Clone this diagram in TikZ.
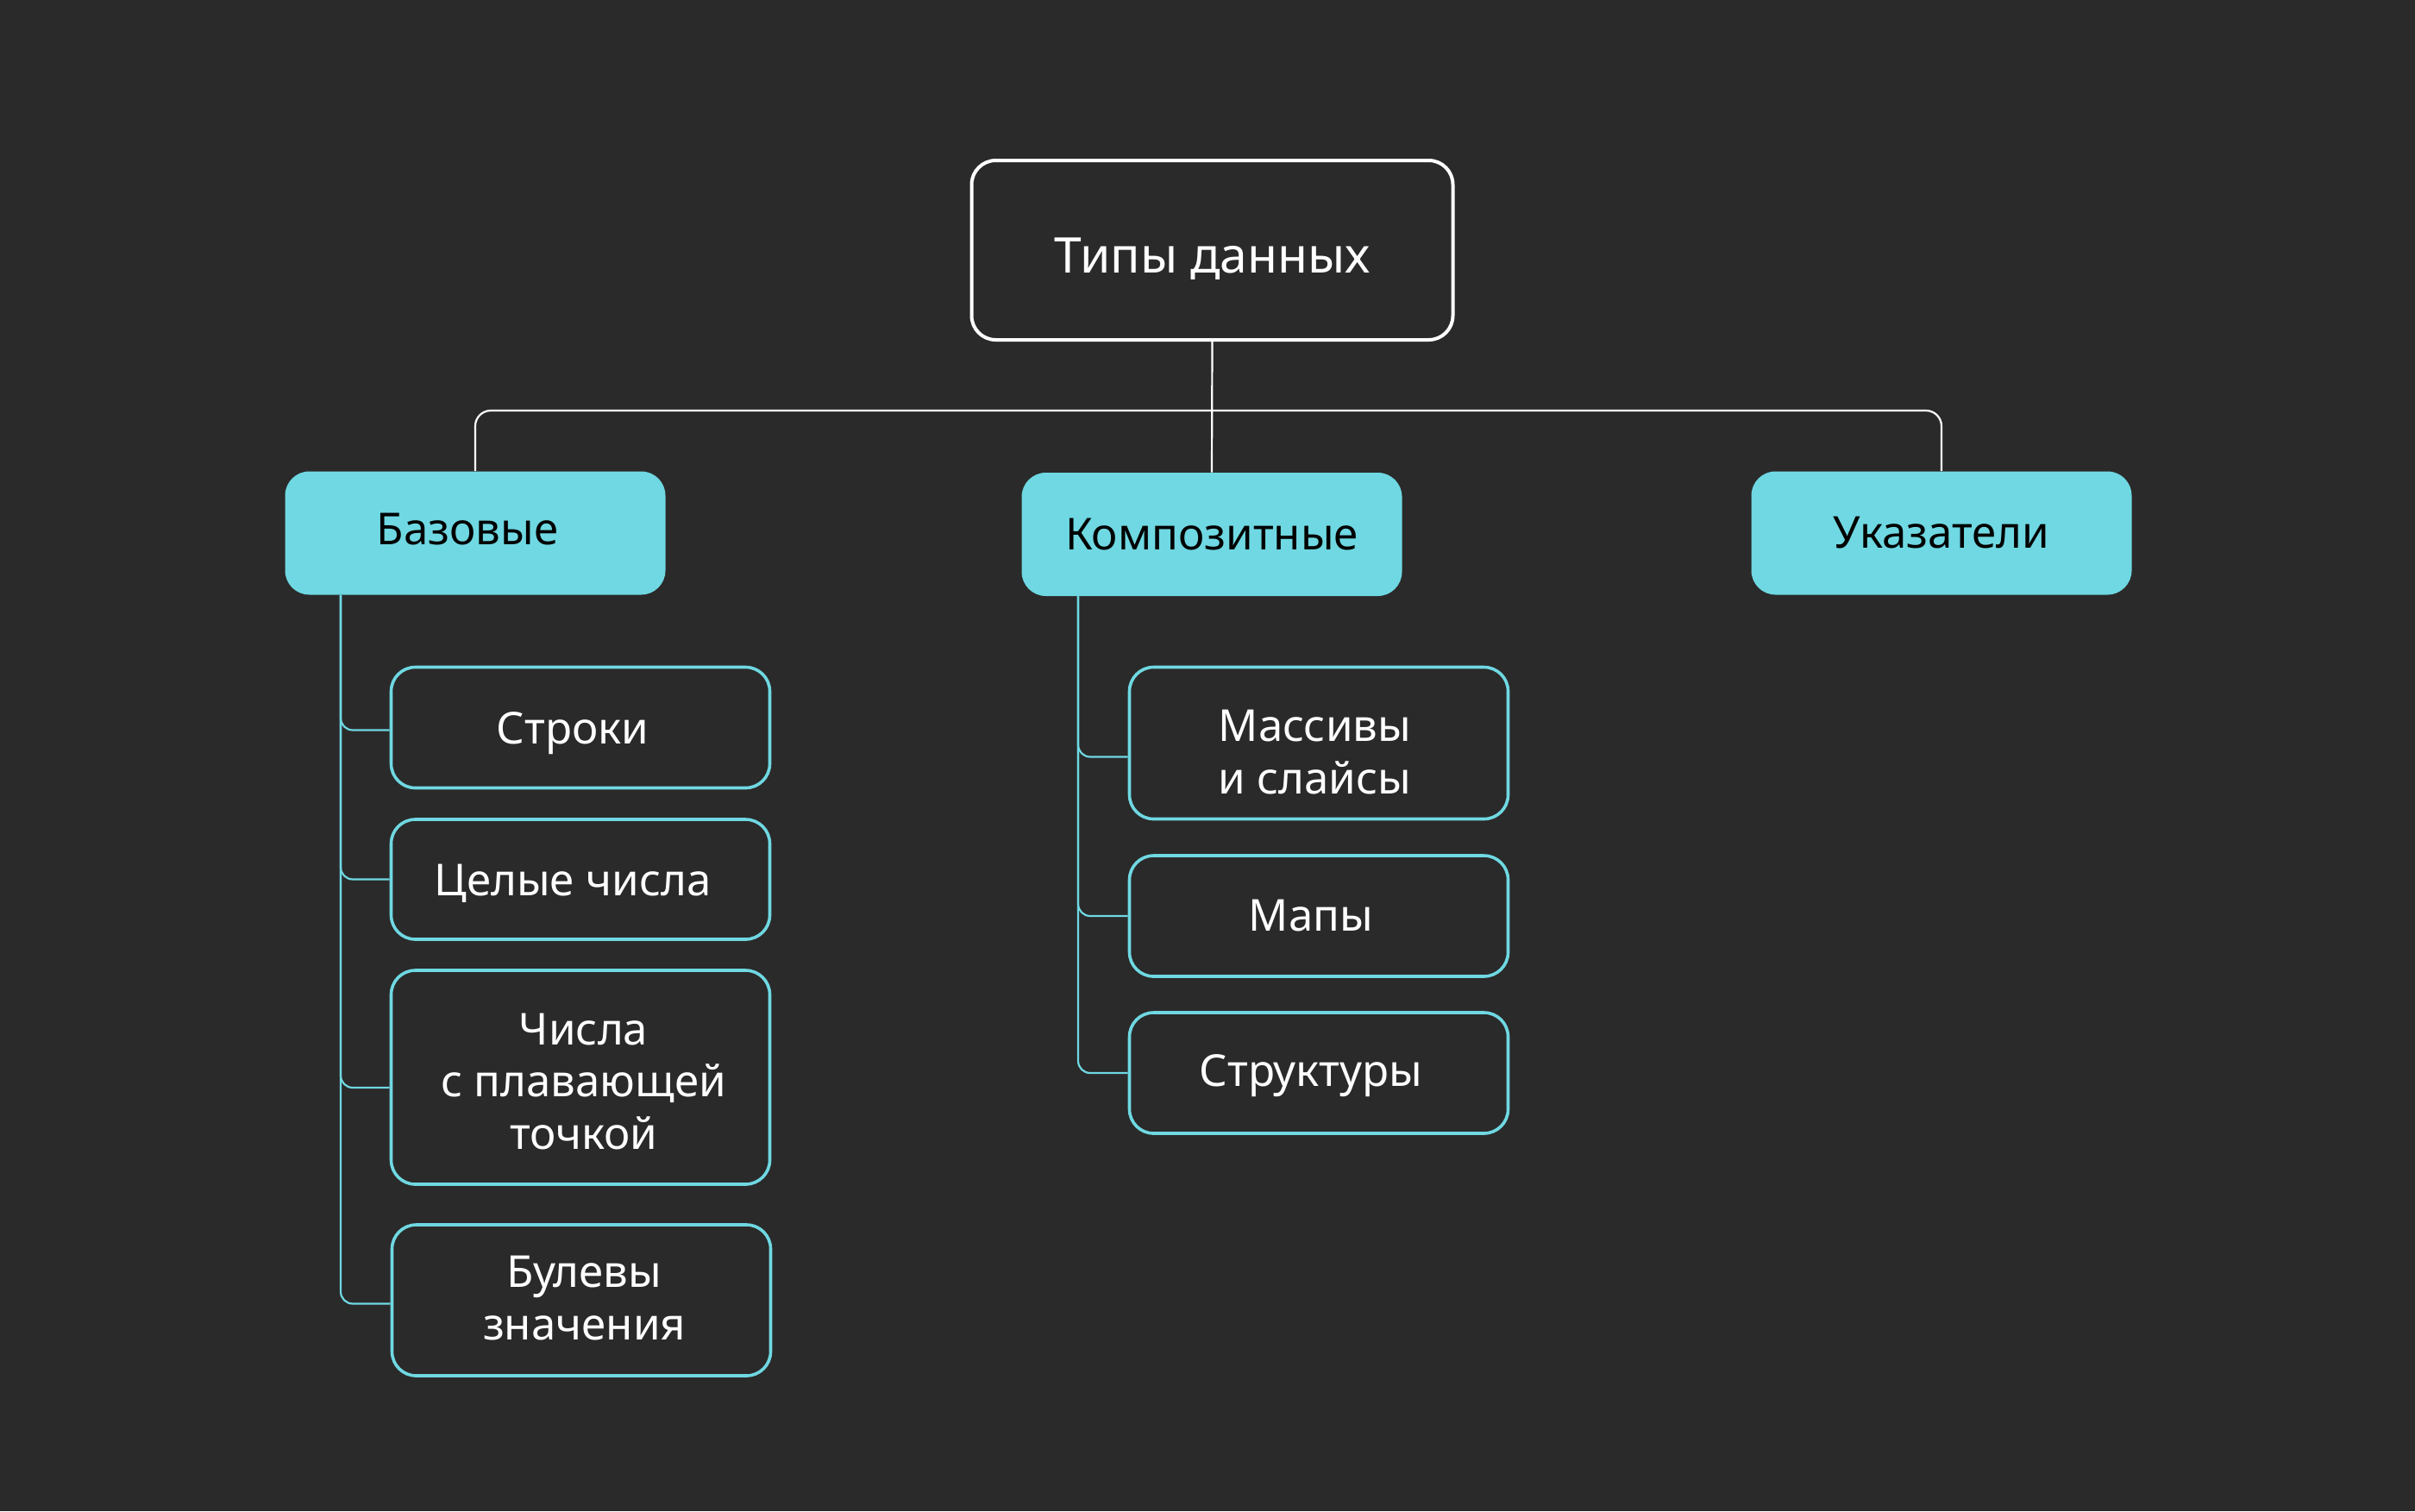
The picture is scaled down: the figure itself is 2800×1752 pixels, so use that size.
\documentclass[tikz,border=0pt]{standalone}
\usepackage{fontspec}
\setmainfont{Noto Sans}
\definecolor{bgc}{HTML}{2A2A2A}
\definecolor{cyanc}{HTML}{6FD8E2}
\newcommand\tl[3]{\raisebox{#2}[\height][\depth]{\begin{tabular}{@{}c@{}}#3\end{tabular}}\hspace*{#1}}
\begin{document}
\begin{tikzpicture}[x=0.5pt,y=-0.5pt,
  topbox/.style={draw=white, line width=2pt, rounded corners=14pt, fill=bgc, text=white,
    minimum width=279pt, minimum height=104pt, inner sep=0pt, font=\fontsize{28.5}{34}\selectfont},
  catbox/.style={fill=cyanc, rounded corners=14pt, text=black,
    minimum width=220.5pt, minimum height=71.5pt, inner sep=0pt, font=\fontsize{25.5}{30.4}\selectfont},
  leafbox/.style={draw=cyanc, line width=1.8pt, rounded corners=14pt, fill=bgc, text=white,
    minimum width=219.5pt, inner sep=0pt, font=\fontsize{25.5}{30.4}\selectfont},
  wline/.style={draw=white, line width=1.1pt, rounded corners=9pt},
  cline/.style={draw=cyanc, line width=1.1pt, rounded corners=7pt}]
\fill[bgc] (0,0) rectangle (2800,1752);
\useasboundingbox (0,0) rectangle (2800,1752);

\node[topbox] (top) at (1405.5,290) {\tl{0pt}{-6.3pt}{Типы данных}};
\node[catbox] (bas) at (551,618) {\tl{9pt}{-0.9pt}{Базовые}};
\node[catbox] (comp) at (1405,619.5) {\tl{0pt}{-2.7pt}{Композитные}};
\node[catbox] (ptr) at (2251,618) {\tl{0pt}{-2.7pt}{Указатели}};

\node[leafbox, minimum height=70pt] (str) at (673,843.5) {\tl{9pt}{-3.6pt}{Строки}};
\node[leafbox, minimum height=69.5pt] (int) at (673,1019.5) {\tl{9pt}{-3.6pt}{Целые числа}};
\node[leafbox, minimum height=124pt] (flt) at (673,1249) {\tl{-3.6pt}{-5.4pt}{Числа\\с плавающей\\точкой}};
\node[leafbox, minimum height=87.5pt] (bool) at (674,1507.5) {\tl{-3.6pt}{-1.8pt}{Булевы\\значения}};

\node[leafbox, minimum height=88pt] (arr) at (1529,861.5) {\tl{4.5pt}{-8pt}{Массивы\\и слайсы}};
\node[leafbox, minimum height=70pt] (map) at (1529,1062) {\tl{9pt}{-2.7pt}{Мапы}};
\node[leafbox, minimum height=70pt] (strc) at (1529,1244) {\tl{9pt}{-1.8pt}{Структуры}};

\coordinate (hl) at (1405,476);
\draw[wline] (bas.north) |- (hl) -| (ptr.north);
\draw[wline] (top.south) -- (comp.north);

\coordinate (bx) at (395,0);
\coordinate (cx) at (1250,0);
\draw[cline] (bas.south -| bx) |- ([yshift=-1.5pt]str.west);
\draw[cline] (bas.south -| bx) |- (int.west);
\draw[cline] (bas.south -| bx) |- ([yshift=-6pt]flt.west);
\draw[cline] (bas.south -| bx) |- ([yshift=-2pt]bool.west);

\draw[cline] (comp.south -| cx) |- ([yshift=-8pt]arr.west);
\draw[cline] (comp.south -| cx) |- (map.west);
\draw[cline] (comp.south -| cx) |- (strc.west);
\end{tikzpicture}
\end{document}
